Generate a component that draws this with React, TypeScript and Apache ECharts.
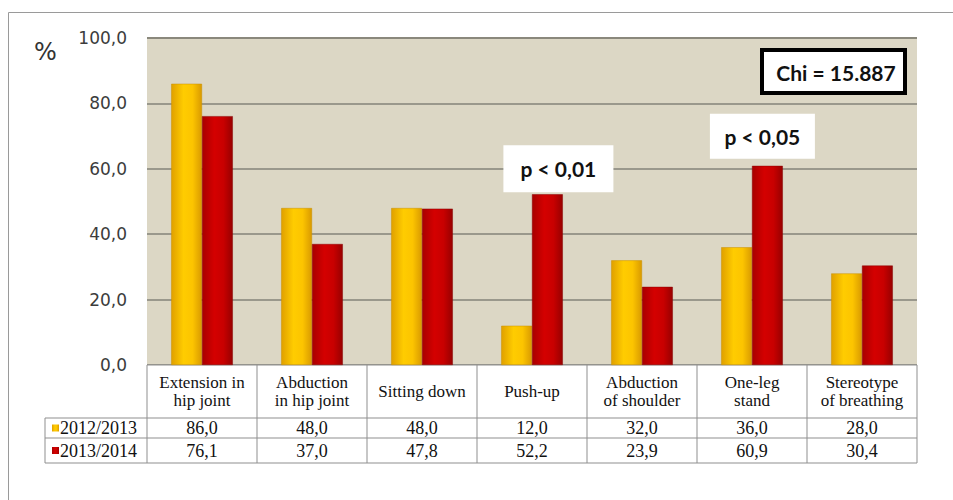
import React, { useEffect, useRef } from "react";
import * as echarts from "echarts";

const categories = [
  "Extension in\nhip joint",
  "Abduction\nin hip joint",
  "Sitting down",
  "Push-up",
  "Abduction\nof shoulder",
  "One-leg\nstand",
  "Stereotype\nof breathing",
];
const seriesNames = ["2012/2013", "2013/2014"];
const values2012 = [86.0, 48.0, 48.0, 12.0, 32.0, 36.0, 28.0];
const values2013 = [76.1, 37.0, 47.8, 52.2, 23.9, 60.9, 30.4];
const yMin = 0;
const yMax = 100;
const yInterval = 20;
const notes = [
  { text: "p < 0,01", category: 3 },
  { text: "p < 0,05", category: 5 },
];
const chiText = "Chi = 15.887";

const fmt = (v: number) => v.toFixed(1).replace(".", ",");

const yellowGrad = () =>
  new echarts.graphic.LinearGradient(0, 0, 1, 0, [
    { offset: 0, color: "#e0a000" },
    { offset: 0.4, color: "#ffcc00" },
    { offset: 0.7, color: "#fcc400" },
    { offset: 1, color: "#d99a00" },
  ]);
const redGrad = () =>
  new echarts.graphic.LinearGradient(0, 0, 1, 0, [
    { offset: 0, color: "#a80000" },
    { offset: 0.4, color: "#d40000" },
    { offset: 0.7, color: "#c80000" },
    { offset: 1, color: "#980000" },
  ]);

export default function App() {
  const ref = useRef<HTMLDivElement>(null);
  useEffect(() => {
    if (!ref.current) return;
    const chart = echarts.init(ref.current, null, { renderer: "svg" });
    chart.setOption({
      animation: false,
      backgroundColor: "#ffffff",
      grid: {
        left: 147,
        right: 36,
        top: 38,
        bottom: 135,
        show: true,
        backgroundColor: "#dcd7c5",
        borderWidth: 0,
      },
      xAxis: {
        type: "category",
        data: categories,
        axisLine: { show: false },
        axisTick: { show: false },
        axisLabel: { show: false },
      },
      yAxis: {
        type: "value",
        min: yMin,
        max: yMax,
        interval: yInterval,
        axisLine: { show: false },
        axisTick: { show: false },
        axisLabel: {
          formatter: fmt,
          color: "#3c3c3c",
          fontSize: 17,
          fontFamily: "DejaVu Sans",
          margin: 20,
          padding: [6, 0, 0, 0],
        },
        splitLine: { lineStyle: { color: "#858378", width: 1.5 } },
      },
      series: [
        {
          name: seriesNames[0],
          type: "bar",
          data: values2012,
          barGap: "0%",
          barCategoryGap: "44%",
          itemStyle: { color: yellowGrad(), borderColor: "#c89000", borderWidth: 0.5 },
        },
        {
          name: seriesNames[1],
          type: "bar",
          data: values2013,
          barGap: "0%",
          barCategoryGap: "44%",
          itemStyle: { color: redGrad(), borderColor: "#8a0000", borderWidth: 0.5 },
        },
      ],
    });

    const cx = (i: number) => chart.convertToPixel({ xAxisIndex: 0 }, i) as number;
    const py = (v: number) => chart.convertToPixel({ yAxisIndex: 0 }, v) as number;
    const colW = cx(1) - cx(0);
    const leftX = cx(0) - colW / 2;
    const rightX = cx(categories.length - 1) + colW / 2;
    const y0 = py(yMin);
    const yTop = py(yMax);
    const headBottom = y0 + 53;
    const row1Bottom = headBottom + 20;
    const row2Bottom = row1Bottom + 25;
    const tableLeft = 45;
    const lineStyle = { stroke: "#8f8f8f", lineWidth: 1 };
    const serif = "Liberation Serif";
    const noteLayout = [
      { dx: 11, gap: 2, w: 110, h: 47 },
      { dx: -5, gap: 7, w: 105, h: 45 },
    ];

    const els: any[] = [];
    els.push({
      type: "rect",
      shape: { x: 8.5, y: 12.5, width: 1000, height: 600 },
      style: { fill: "none", stroke: "#9a9a9a", lineWidth: 1 },
      silent: true,
    });
    els.push({
      type: "line",
      shape: { x1: leftX, y1: yTop, x2: rightX, y2: yTop },
      style: { stroke: "#8a887c", lineWidth: 2 },
    });
    els.push({
      type: "text",
      x: 34,
      y: 52,
      style: { text: "%", fontSize: 24, fontFamily: "DejaVu Sans", fill: "#333", verticalAlign: "middle" },
    });
    els.push({
      type: "rect",
      shape: { x: leftX, y: y0, width: rightX - leftX, height: headBottom - y0 },
      style: { fill: "#ffffff" },
    });
    els.push({
      type: "rect",
      shape: { x: tableLeft, y: headBottom, width: rightX - tableLeft, height: row2Bottom - headBottom },
      style: { fill: "#ffffff" },
    });
    els.push({ type: "line", shape: { x1: leftX, y1: y0, x2: rightX, y2: y0 }, style: lineStyle });
    [headBottom, row1Bottom, row2Bottom].forEach((y) =>
      els.push({ type: "line", shape: { x1: tableLeft, y1: y, x2: rightX, y2: y }, style: lineStyle })
    );
    els.push({ type: "line", shape: { x1: tableLeft, y1: headBottom, x2: tableLeft, y2: row2Bottom }, style: lineStyle });
    for (let i = 0; i <= categories.length; i++) {
      const x = leftX + i * colW;
      els.push({ type: "line", shape: { x1: x, y1: y0, x2: x, y2: row2Bottom }, style: lineStyle });
    }
    categories.forEach((c, i) => {
      els.push({
        type: "text",
        x: cx(i),
        y: (y0 + headBottom) / 2,
        style: {
          text: c,
          fontSize: 17,
          fontFamily: serif,
          fill: "#111",
          align: "center",
          verticalAlign: "middle",
          lineHeight: 18,
        },
      });
    });
    const rows = [
      { name: seriesNames[0], vals: values2012, top: headBottom, bottom: row1Bottom, sq: yellowGrad() },
      { name: seriesNames[1], vals: values2013, top: row1Bottom, bottom: row2Bottom, sq: redGrad() },
    ];
    rows.forEach((r) => {
      const my = (r.top + r.bottom) / 2;
      els.push({ type: "rect", shape: { x: 52, y: my - 3.5, width: 7, height: 7 }, style: { fill: r.sq } });
      els.push({
        type: "text",
        x: 60,
        y: my,
        style: { text: r.name, fontSize: 18, fontFamily: serif, fill: "#111", verticalAlign: "middle" },
      });
      r.vals.forEach((v, i) =>
        els.push({
          type: "text",
          x: cx(i),
          y: my,
          style: { text: fmt(v), fontSize: 18, fontFamily: serif, fill: "#111", align: "center", verticalAlign: "middle" },
        })
      );
    });
    notes.forEach((n, k) => {
      const L = noteLayout[k];
      const barX = cx(n.category) + colW * 0.14 + L.dx;
      const barTop = py(values2013[n.category]);
      els.push({
        type: "rect",
        shape: { x: barX - L.w / 2, y: barTop - L.h - L.gap, width: L.w, height: L.h },
        style: { fill: "#ffffff" },
      });
      els.push({
        type: "text",
        x: barX,
        y: barTop - L.h / 2 - L.gap,
        style: { text: n.text, fontSize: 21, fontWeight: "bold", fontFamily: "Lato", fill: "#111", align: "center", verticalAlign: "middle" },
      });
    });
    els.push({
      type: "rect",
      shape: { x: 762, y: 50, width: 143, height: 43 },
      style: { fill: "#ffffff", stroke: "#000", lineWidth: 4 },
    });
    els.push({
      type: "text",
      x: 836,
      y: 72,
      style: { text: chiText, fontSize: 21, fontWeight: "bold", fontFamily: "Lato", fill: "#111", align: "center", verticalAlign: "middle" },
    });

    chart.setOption({ graphic: { elements: els } });
    return () => chart.dispose();
  }, []);
  return (
    <div
      ref={ref}
      style={{ position: "fixed", left: 0, top: 0, width: 953, height: 500 }}
    />
  );
}
